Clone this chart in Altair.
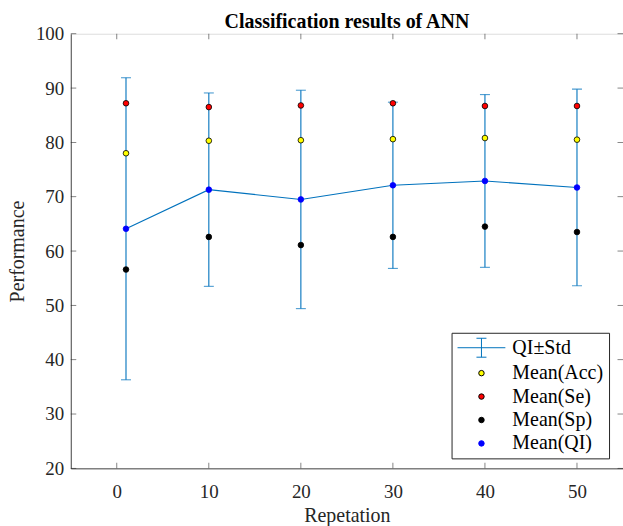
import altair as alt
import pandas as pd

# ---- data ----
reps = [1, 10, 20, 30, 40, 50]
mean_acc = [78.0, 80.3, 80.4, 80.6, 80.8, 80.5]
mean_se = [87.2, 86.5, 86.8, 87.2, 86.7, 86.7]
mean_sp = [56.6, 62.6, 61.1, 62.6, 64.5, 63.5]
mean_qi = [64.1, 71.3, 69.5, 72.1, 72.9, 71.7]
std_qi = [27.8, 17.8, 20.1, 15.3, 15.9, 18.1]

series_names = ["QI\u00b1Std", "Mean(Acc)", "Mean(Se)", "Mean(Sp)", "Mean(QI)"]
x_ticks = [0, 10, 20, 30, 40, 50]
y_ticks = [20, 30, 40, 50, 60, 70, 80, 90, 100]
x_domain = [-5, 55]
y_domain = [20, 100]

# ---- styling ----
FONT = "Liberation Serif"
AXC = "#262626"
BLUE = "#0072BD"
ERR_SYMBOL = "M-8.76,0H8.76M0,-3.47V3.47M-1.83,-3.47H1.83M-1.83,3.47H1.83"

err = pd.DataFrame({
    "rep": reps,
    "value": mean_qi,
    "lo": [m - s for m, s in zip(mean_qi, std_qi)],
    "hi": [m + s for m, s in zip(mean_qi, std_qi)],
})

rows = []
for name, vals in zip(series_names[1:], [mean_acc, mean_se, mean_sp, mean_qi]):
    for r, v in zip(reps, vals):
        rows.append({"rep": r, "value": v, "series": name})
pts = pd.DataFrame(rows)

x_scale = alt.Scale(domain=x_domain, nice=False, zero=False)
y_scale = alt.Scale(domain=y_domain, nice=False, zero=False)
x_axis = alt.Axis(values=x_ticks, ticks=False, tickSize=0, grid=False, title="Repetation",
                  labelFont=FONT, labelFontSize=19, labelColor=AXC, labelPadding=14,
                  titleFont=FONT, titleFontSize=20, titleColor=AXC, titleFontWeight="normal",
                  titlePadding=4, domainColor=AXC, domainWidth=0.8, format="d")
y_axis = alt.Axis(values=y_ticks, ticks=False, tickSize=0, grid=False, title="Performance",
                  labelFont=FONT, labelFontSize=19, labelColor=AXC, labelPadding=7,
                  titleFont=FONT, titleFontSize=20, titleColor=AXC, titleFontWeight="normal",
                  titlePadding=8, domainColor=AXC, domainWidth=0.8, format="d")


def X(field="rep"):
    return alt.X(f"{field}:Q", scale=x_scale, axis=x_axis)


def Y(field="value"):
    return alt.Y(f"{field}:Q", scale=y_scale, axis=y_axis)


legend = alt.Legend(title=None, orient="none", legendX=382, legendY=300, direction="vertical",
                    labelFont=FONT, labelFontSize=20, labelColor="black", labelLimit=300,
                    strokeColor=AXC, fillColor="white", padding=5, rowPadding=3.5,
                    symbolOffset=15, labelOffset=21, symbolSize=30, symbolStrokeWidth=1,
                    cornerRadius=0)

dom = series_names
fill_scale = alt.Scale(domain=dom, range=["transparent", "#FFFF00", "#FF0000", "#000000", "#0000FF"])
stroke_scale = alt.Scale(domain=dom, range=[BLUE, "#000000", "#000000", "#000000", "#0000FF"])
shape_scale = alt.Scale(domain=dom, range=[ERR_SYMBOL, "circle", "circle", "circle", "circle"])

line = alt.Chart(err).mark_line(color=BLUE, strokeWidth=1.1).encode(x=X(), y=Y())
bars = alt.Chart(err).mark_rule(color=BLUE, strokeWidth=1.1).encode(x=X(), y=Y("lo"), y2="hi:Q")
cap_lo = alt.Chart(err).mark_tick(color=BLUE, orient="horizontal", size=10, thickness=1.1).encode(x=X(), y=Y("lo"))
cap_hi = alt.Chart(err).mark_tick(color=BLUE, orient="horizontal", size=10, thickness=1.1).encode(x=X(), y=Y("hi"))

points = alt.Chart(pts).mark_point(filled=True, size=32, strokeWidth=0.8, opacity=1).encode(
    x=X(), y=Y(),
    fill=alt.Fill("series:N", scale=fill_scale, legend=legend),
    stroke=alt.Stroke("series:N", scale=stroke_scale, legend=legend),
    shape=alt.Shape("series:N", scale=shape_scale, legend=legend),
)

# inward box ticks (MATLAB style)
xt_bottom = pd.DataFrame({"rep": x_ticks, "value": [y_domain[0]] * len(x_ticks)})
xt_top = pd.DataFrame({"rep": x_ticks, "value": [y_domain[1]] * len(x_ticks)})
yt_left = pd.DataFrame({"rep": [x_domain[0]] * len(y_ticks), "value": y_ticks})
yt_right = pd.DataFrame({"rep": [x_domain[1]] * len(y_ticks), "value": y_ticks})
TL = 5.5
tick_b = alt.Chart(xt_bottom).mark_tick(color=AXC, orient="vertical", size=TL, thickness=0.8, yOffset=-TL / 2).encode(x=X(), y=Y())
tick_t = alt.Chart(xt_top).mark_tick(color=AXC, orient="vertical", size=TL, thickness=0.8, yOffset=TL / 2).encode(x=X(), y=Y())
tick_l = alt.Chart(yt_left).mark_tick(color=AXC, orient="horizontal", size=TL, thickness=0.8, xOffset=TL / 2).encode(x=X(), y=Y())
tick_r = alt.Chart(yt_right).mark_tick(color=AXC, orient="horizontal", size=TL, thickness=0.8, xOffset=-TL / 2).encode(x=X(), y=Y())

chart = alt.layer(tick_b, tick_t, tick_l, tick_r, bars, cap_lo, cap_hi, line, points).properties(
    width=554, height=436,
    title=alt.TitleParams("Classification results of ANN", font=FONT, fontSize=20, fontWeight="bold",
                          color="black", anchor="middle", offset=-7),
    autosize=alt.AutoSizeParams(type="none"),
    padding={"left": 71, "top": 33, "right": 0, "bottom": 57},
).configure_view(stroke=AXC, strokeWidth=0.8).configure(background="white")

chart.save("out.html", embed_options={"renderer": "svg", "actions": False})
